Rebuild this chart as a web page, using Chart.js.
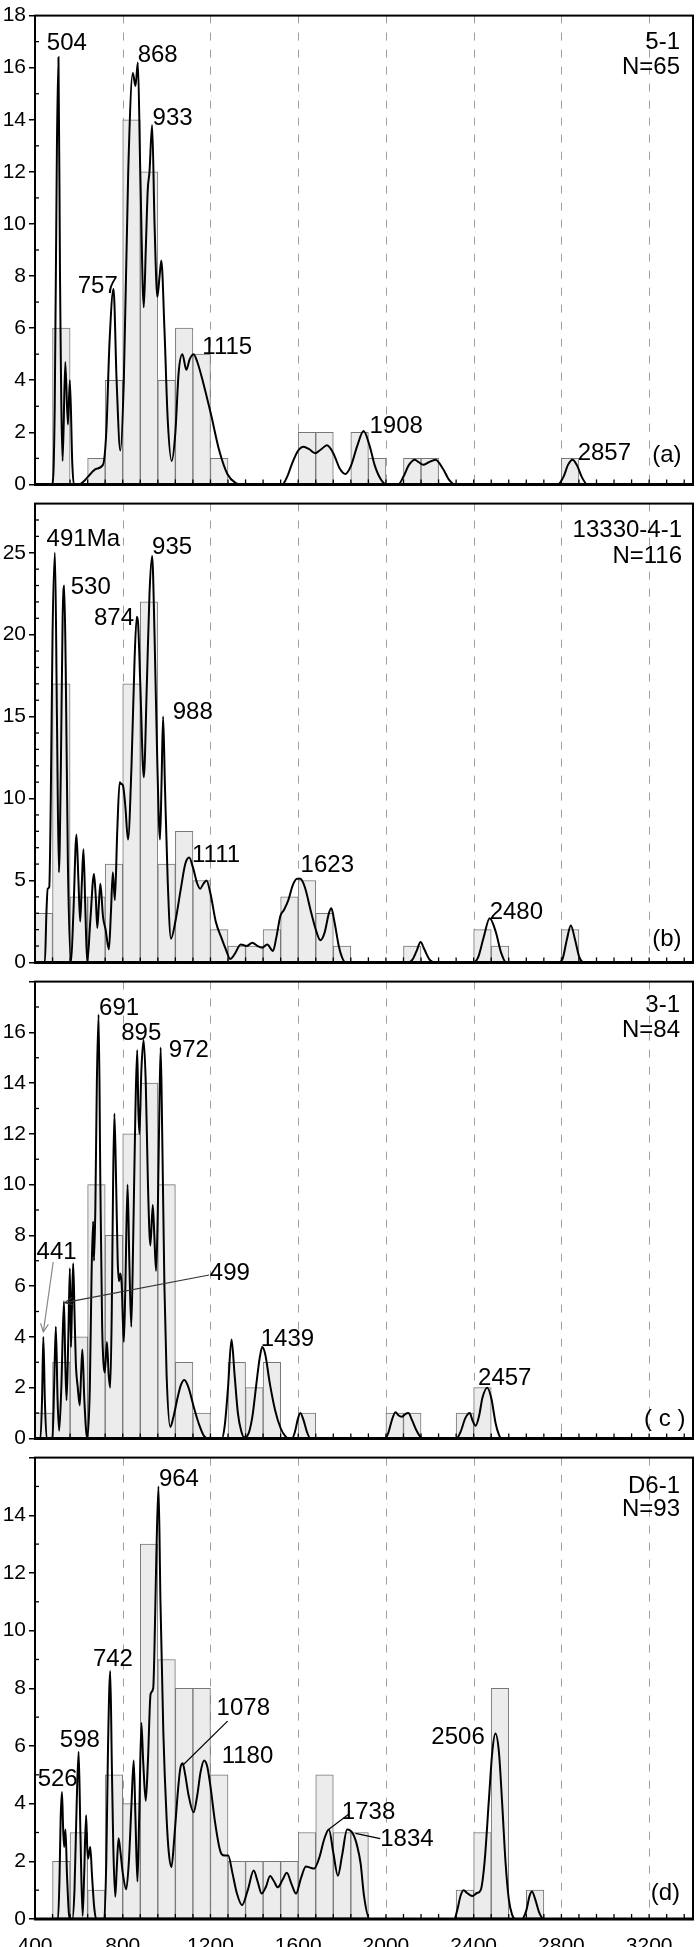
<!DOCTYPE html>
<html>
<head>
<meta charset="utf-8">
<script src="https://cdn.jsdelivr.net/npm/chart.js@4.4.1/dist/chart.umd.min.js"></script>
<style>
html, body { margin: 0; padding: 0; background: #fff; }
#wrap { position: relative; width: 700px; height: 1947px; overflow: hidden; }
canvas { position: absolute; left: 0; }
</style>
</head>
<body>
<div id="wrap">
  <canvas id="ga" width="700" height="500" style="top:0px"></canvas>
  <canvas id="gb" width="700" height="490" style="top:488px"></canvas>
  <canvas id="gc" width="700" height="488" style="top:966px"></canvas>
  <canvas id="gd" width="700" height="505" style="top:1442px"></canvas>
</div>
<script>
// histogram bins are 80 Ma wide, lower edges listed
var binWidth = 80;
var ageTicks = [400, 800, 1200, 1600, 2000, 2400, 2800, 3200];

// (a) 5-1
var binsA = [480, 640, 720, 800, 880, 960, 1040, 1120, 1200, 1600, 1680, 1840, 1920, 2080, 2160, 2800];
var countsA = [6, 1, 4, 14, 12, 4, 6, 5, 1, 2, 2, 2, 1, 1, 1, 1];
var curveA = [[400,0],[480,0],[490,3],[500,13],[507,16.4],[514,8],[526,0.9],[538,4.7],[550,2.3],[559,4.0],[570,0.8],[577,0],
  [600,0],[620,0.1],[642,0.3],[680,0.6],[710,0.75],[725,2],[740,5.5],[758,7.5],[772,4],[789,1.3],[805,4],[825,12],
  [846,15.8],[858,15.3],[869,16.2],[880,12],[896,6.8],[905,9],[914,11.3],[922,12],[934,13.8],[945,10],[958,7.2],
  [968,8],[976,8.6],[990,6],[1005,2.5],[1023,0.9],[1040,2],[1055,4.3],[1072,5.0],[1090,4.4],[1105,4.8],[1123,5.0],
  [1140,4.7],[1164,4.0],[1202,2.7],[1240,1.3],[1277,0.4],[1315,0.05],[1340,0],[1527,0],[1550,0.3],[1572,0.8],
  [1600,1.3],[1625,1.45],[1650,1.35],[1678,1.2],[1705,1.35],[1731,1.5],[1760,1.2],[1790,0.6],[1815,0.4],[1840,0.7],
  [1870,1.5],[1898,2.05],[1925,1.5],[1950,0.7],[1980,0.15],[2004,0],[2057,0],[2080,0.3],[2105,0.75],[2132,0.95],
  [2150,0.85],[2170,0.75],[2195,0.85],[2226,0.95],[2260,0.6],[2290,0.15],[2314,0],[2783,0],[2810,0.3],[2830,0.75],
  [2851,0.95],[2870,0.75],[2895,0.25],[2919,0],[3400,0]];

// (b) 13330-4-1
var binsB = [400, 480, 560, 640, 720, 800, 880, 960, 1040, 1120, 1200, 1280, 1360, 1440, 1520, 1600, 1680, 1760, 2080, 2400, 2480, 2800];
var countsB = [3, 17, 4, 4, 6, 17, 22, 6, 8, 5, 2, 1, 1, 2, 4, 5, 3, 1, 1, 2, 1, 2];
var curveB = [[400,0],[445,0],[452,3],[458,4.5],[465,4.6],[472,10],[480,20],[491,25],[500,15],[509,5.5],[518,12],[526,21],
  [533,23],[540,18],[550,6],[564,0],[575,3],[589,7.8],[598,5],[606,2.5],[614,5],[621,6.9],[630,3],[638,0],[652,2.5],
  [669,5.4],[677,4],[684,2.1],[691,3.5],[698,4.8],[710,2.8],[722,2.0],[737,0.8],[746,3],[755,5.5],[764,3.8],[775,8],
  [786,11],[793,10.9],[801,10.8],[812,9.5],[824,7.5],[840,12],[854,18.5],[864,21.1],[870,20.7],[880,17],[896,11.3],
  [910,17],[922,22.5],[934,24.8],[945,20],[958,12],[970,7.5],[977,11],[984,15],[992,11],[1005,5],[1020,1.45],
  [1040,2.5],[1065,4.5],[1085,6],[1103,6.4],[1120,5.8],[1140,4.8],[1153,4.5],[1168,4.8],[1182,5.0],[1200,4.2],
  [1224,2.5],[1250,1.5],[1270,0.8],[1290,0.2],[1310,0.5],[1338,1.1],[1365,1.0],[1391,1.2],[1415,1.0],[1436,0.9],
  [1459,1.1],[1485,0.7],[1500,1.5],[1519,2.85],[1535,3.2],[1555,3.8],[1575,4.7],[1595,5.1],[1610,5.1],[1630,4.6],
  [1660,3.0],[1685,1.8],[1701,1.35],[1720,1.8],[1740,3.0],[1751,3.3],[1765,2.5],[1785,1.0],[1800,0.3],[1815,0],
  [2102,0],[2120,0.15],[2140,0.7],[2158,1.25],[2175,0.8],[2200,0.15],[2223,0],[2397,0],[2420,0.3],[2445,1.5],
  [2473,2.7],[2500,1.9],[2525,0.6],[2548,0],[2786,0],[2805,0.2],[2825,1.4],[2843,2.25],[2862,1.4],[2882,0.3],
  [2904,0],[3400,0]];

// (c) 3-1
var binsC = [400, 480, 560, 640, 720, 800, 880, 960, 1040, 1120, 1280, 1360, 1440, 1600, 2000, 2080, 2320, 2400];
var countsC = [1, 3, 4, 10, 8, 12, 14, 10, 3, 1, 3, 2, 3, 1, 1, 1, 1, 2];
var curveC = [[400,0],[425,0],[432,1.5],[438,4.0],[445,1.5],[453,0],[480,0],[487,2],[495,4.4],[503,1.5],[510,0.3],[520,2],
  [532,5.4],[538,3],[544,1.5],[552,4],[559,6.7],[564,3.6],[568,5],[574,6.9],[580,5],[586,3.0],[595,2.0],[604,1.3],
  [610,2.5],[616,3.5],[625,1.5],[638,0],[650,2],[658,6.5],[665,8.55],[669,7],[675,9],[682,14],[690,16.7],[698,10],
  [706,4.5],[712,3],[718,2.6],[728,3.8],[736,2.5],[743,2.0],[750,5],[756,10],[762,12.8],[770,10],[777,7],[783,6.2],
  [789,6.5],[795,6.1],[805,3.8],[812,6],[822,10],[830,7],[839,4.4],[848,8],[858,13],[866,15.3],[871,13],[876,12],
  [885,14.5],[895,15.7],[905,14],[915,10],[926,7.6],[937,9.2],[944,8],[952,6.6],[960,9],[967,13],[973,15.4],
  [980,12],[990,6],[1000,2.5],[1017,0.45],[1030,0.8],[1050,1.6],[1065,2.1],[1081,2.3],[1100,2.0],[1125,1.2],
  [1150,0.5],[1170,0.1],[1187,0],[1252,0],[1265,0.5],[1280,2],[1296,3.9],[1310,2.5],[1325,1.0],[1340,0.3],
  [1353,0.05],[1368,0.1],[1390,0.8],[1410,2.2],[1425,3.2],[1436,3.6],[1450,3.3],[1470,2.2],[1495,1.1],[1520,0.4],
  [1540,0.1],[1557,0],[1572,0],[1585,0.25],[1598,0.75],[1610,1.0],[1625,0.7],[1640,0.25],[1656,0],[1996,0],
  [2010,0.2],[2030,0.8],[2044,1.03],[2058,0.9],[2072,0.85],[2087,0.95],[2102,1.0],[2120,0.7],[2140,0.3],[2166,0],
  [2321,0],[2340,0.25],[2362,0.8],[2382,1.0],[2395,0.7],[2409,0.5],[2425,0.9],[2440,1.6],[2462,2.0],[2480,1.6],
  [2500,0.6],[2515,0.15],[2526,0],[3400,0]];

// (d) D6-1
var binsD = [480, 560, 640, 720, 800, 880, 960, 1040, 1120, 1200, 1280, 1360, 1440, 1520, 1600, 1680, 1760, 1840, 2320, 2400, 2480, 2640];
var countsD = [2, 3, 1, 5, 4, 13, 9, 8, 8, 5, 2, 2, 2, 2, 3, 5, 3, 3, 1, 3, 8, 1];
var curveD = [[400,0],[505,0],[512,1.5],[517,3.5],[523,4.4],[528,3.2],[533,2.5],[539,3.1],[546,1.5],[558,0],[570,0],
  [580,1],[590,4],[599,5.8],[607,3],[617,0.1],[624,1.5],[633,3.6],[638,2.5],[642,2.1],[647,2.3],[652,2.5],[660,1.5],
  [670,0.4],[679,0],[716,0],[725,2],[733,6],[743,8.6],[750,5.5],[757,2.5],[766,0.77],[773,1.8],[781,2.8],[790,2.3],
  [800,1.6],[816,1.03],[828,2],[840,4],[850,5.5],[858,3.5],[867,1.3],[875,3.5],[885,6.8],[893,5.5],[905,4.1],
  [915,5.5],[927,7.8],[939,8.0],[945,9.5],[953,12.5],[963,15.0],[972,11],[985,6.5],[1000,3.5],[1010,2.3],
  [1022,1.8],[1035,2.8],[1050,4.3],[1062,5.2],[1073,5.4],[1085,5.0],[1100,4.3],[1123,3.7],[1140,4.3],[1155,5.1],
  [1171,5.5],[1185,5.3],[1200,4.6],[1220,3.4],[1240,2.5],[1251,2.25],[1265,2.2],[1281,2.2],[1300,1.6],[1320,0.9],
  [1344,0.48],[1370,1.0],[1397,1.68],[1415,1.3],[1433,0.88],[1452,1.1],[1472,1.49],[1490,1.3],[1507,1.1],
  [1528,1.35],[1548,1.6],[1570,1.2],[1590,0.88],[1612,1.4],[1635,1.82],[1655,1.78],[1673,1.75],[1695,2.1],
  [1720,2.8],[1740,3.1],[1760,2.3],[1781,1.5],[1800,2.2],[1823,3.1],[1850,2.95],[1870,2.5],[1885,1.9],[1900,0.8],
  [1925,0],[2311,0],[2325,0.3],[2340,0.8],[2354,1.0],[2370,0.9],[2394,0.8],[2415,0.9],[2432,1.0],[2450,2],
  [2470,4.2],[2485,5.8],[2499,6.43],[2515,5.8],[2530,4],[2545,2],[2560,0.7],[2575,0.15],[2590,0],[2620,0],
  [2640,0.3],[2655,0.8],[2666,0.95],[2680,0.7],[2700,0.2],[2718,0],[3400,0]];

var fontFam = "'Liberation Sans', Arial, sans-serif";

// peak labels and sample names, placed in data units
var notesA = {
  texts: [
    {t: '504', x: 454, y: 16.66}, {t: '868', x: 868, y: 16.2}, {t: '933', x: 936, y: 13.8},
    {t: '757', x: 595, y: 7.34}, {t: '1115', x: 1163, y: 5.0}, {t: '1908', x: 1925, y: 1.98},
    {t: '2857', x: 2874, y: 0.93}, {t: '(a)', x: 3214, y: 0.86},
    {t: '5-1', x: 3341, y: 16.7, align: 'right'}, {t: 'N=65', x: 3341, y: 15.77, align: 'right'}
  ],
  lines: []
};
var notesB = {
  texts: [
    {t: '491Ma', x: 453, y: 25.4}, {t: '530', x: 563, y: 22.5}, {t: '874', x: 669, y: 20.6},
    {t: '935', x: 934, y: 24.9}, {t: '988', x: 1028, y: 14.86}, {t: '1111', x: 1116, y: 6.13},
    {t: '1623', x: 1611, y: 5.54}, {t: '2480', x: 2473, y: 2.66}, {t: '(b)', x: 3214, y: 1.0},
    {t: '13330-4-1', x: 3350, y: 25.95, align: 'right'}, {t: 'N=116', x: 3350, y: 24.4, align: 'right'}
  ],
  lines: []
};
var notesC = {
  texts: [
    {t: '691', x: 692, y: 16.7}, {t: '895', x: 793, y: 15.7}, {t: '972', x: 1010, y: 15.03},
    {t: '441', x: 407, y: 7.08}, {t: '499', x: 1197, y: 6.25}, {t: '1439', x: 1429, y: 3.63},
    {t: '2457', x: 2420, y: 2.1}, {t: '( c )', x: 3177, y: 0.49},
    {t: '3-1', x: 3341, y: 16.8, align: 'right'}, {t: 'N=84', x: 3341, y: 15.8, align: 'right'}
  ],
  lines: [
    {x1: 483, y1: 6.95, x2: 438, y2: 4.2, arrow: true, color: '#888'},
    {x1: 1194, y1: 6.44, x2: 536, y2: 5.35, arrow: true, color: '#333'}
  ]
};
var notesD = {
  texts: [
    {t: '964', x: 965, y: 15.0}, {t: '742', x: 664, y: 8.77}, {t: '598', x: 513, y: 5.97},
    {t: '526', x: 412, y: 4.6}, {t: '1078', x: 1228, y: 7.06}, {t: '1180', x: 1251, y: 5.4},
    {t: '1738', x: 1799, y: 3.46}, {t: '1834', x: 1974, y: 2.54}, {t: '2506', x: 2207, y: 6.08},
    {t: '(d)', x: 3207, y: 0.65},
    {t: 'D6-1', x: 3341, y: 14.78, align: 'right'}, {t: 'N=93', x: 3341, y: 13.97, align: 'right'}
  ],
  lines: [
    {x1: 1278, y1: 6.86, x2: 1075, y2: 5.34, color: '#000'},
    {x1: 1830, y1: 3.63, x2: 1740, y2: 3.11, color: '#000'},
    {x1: 1861, y1: 2.97, x2: 1974, y2: 2.79, color: '#000'}
  ]
};

function criarPainel(p)
{
    var bars = p.bins.map(function (b, i) { return {x: b + binWidth / 2, y: p.counts[i]}; });
    var line = p.curve.map(function (c) { return {x: c[0], y: c[1]}; });

    // dashed verticals, frame, inner ticks and the labels
    var moldura = {
        id: 'moldura',
        beforeDatasetsDraw: function (chart) {
            var ctx = chart.ctx, a = chart.chartArea, x = chart.scales.x;
            ctx.save();
            ctx.strokeStyle = '#a0a0a0';
            ctx.lineWidth = 1;
            ctx.setLineDash([8, 9]);
            ageTicks.forEach(function (v) {
                if (v <= x.min) return;
                var px = Math.round(x.getPixelForValue(v)) + 0.5;
                ctx.beginPath(); ctx.moveTo(px, a.top); ctx.lineTo(px, a.bottom); ctx.stroke();
            });
            ctx.restore();
        },
        afterDraw: function (chart) {
            var ctx = chart.ctx, a = chart.chartArea, x = chart.scales.x, y = chart.scales.y;
            ctx.save();
            ctx.strokeStyle = '#000';
            ctx.lineWidth = 1.3;
            for (var v = 400 + binWidth; v < 3400; v += binWidth) {
                var px = x.getPixelForValue(v);
                ctx.beginPath(); ctx.moveTo(px, a.bottom); ctx.lineTo(px, a.bottom - 5); ctx.stroke();
            }
            for (var k = p.yMinor; k < p.yMax; k += p.yMinor) {
                if (k % p.yStep === 0) continue;
                var py = y.getPixelForValue(k);
                ctx.beginPath(); ctx.moveTo(a.left, py); ctx.lineTo(a.left + 4, py); ctx.stroke();
            }
            ctx.lineWidth = 2;
            ctx.strokeRect(a.left, a.top, a.right - a.left, a.bottom - a.top);
            ctx.lineWidth = 3;
            ctx.beginPath(); ctx.moveTo(a.left - 1, a.bottom); ctx.lineTo(a.right + 1, a.bottom); ctx.stroke();

            p.notes.lines.forEach(function (l) {
                var x1 = x.getPixelForValue(l.x1), y1 = y.getPixelForValue(l.y1);
                var x2 = x.getPixelForValue(l.x2), y2 = y.getPixelForValue(l.y2);
                ctx.strokeStyle = l.color;
                ctx.lineWidth = 1.2;
                ctx.beginPath(); ctx.moveTo(x1, y1); ctx.lineTo(x2, y2); ctx.stroke();
                if (l.arrow) {
                    var ang = Math.atan2(y2 - y1, x2 - x1);
                    ctx.beginPath();
                    ctx.moveTo(x2 - 9 * Math.cos(ang - 0.45), y2 - 9 * Math.sin(ang - 0.45));
                    ctx.lineTo(x2, y2);
                    ctx.lineTo(x2 - 9 * Math.cos(ang + 0.45), y2 - 9 * Math.sin(ang + 0.45));
                    ctx.stroke();
                }
            });

            ctx.fillStyle = '#000';
            ctx.font = '24px ' + fontFam;
            ctx.textBaseline = 'alphabetic';
            p.notes.texts.forEach(function (n) {
                ctx.textAlign = n.align || 'left';
                ctx.fillText(n.t, x.getPixelForValue(n.x), y.getPixelForValue(n.y));
            });
            ctx.restore();
        }
    };

    return new Chart(document.getElementById(p.id), {
        type: 'bar',
        data: {
            datasets: [{
                type: 'line',
                data: line,
                borderColor: '#000',
                borderWidth: 2,
                pointRadius: 0,
                fill: false,
                cubicInterpolationMode: 'monotone',
                order: 0
            }, {
                type: 'bar',
                data: bars,
                backgroundColor: '#ececec',
                borderColor: '#777',
                borderWidth: 1,
                borderSkipped: false,
                barPercentage: 1,
                categoryPercentage: 1,
                grouped: false,
                order: 1
            }]
        },
        options: {
            responsive: false,
            animation: false,
            events: [],
            layout: {padding: {top: p.padTop, right: 7, left: 0, bottom: p.padBottom}},
            plugins: {legend: {display: false}, tooltip: {enabled: false}},
            scales: {
                x: {
                    type: 'linear',
                    min: 400,
                    max: 3400,
                    offset: false,
                    afterFit: function (s) { s.height = p.xHeight; },
                    afterBuildTicks: function (s) {
                        s.ticks = ageTicks.map(function (v) { return {value: v}; });
                    },
                    ticks: {
                        display: p.showX,
                        color: '#000',
                        font: {family: fontFam, size: 21},
                        padding: 7,
                        maxRotation: 0,
                        autoSkip: false,
                        callback: function (v) { return String(v); }
                    },
                    grid: {display: false},
                    border: {display: false}
                },
                y: {
                    min: 0,
                    max: p.yMax,
                    afterFit: function (s) { s.width = 35; },
                    afterBuildTicks: function (s) {
                        s.ticks = s.ticks.filter(function (t) { return t.value % p.yStep === 0; });
                    },
                    ticks: {
                        stepSize: p.yStep,
                        color: '#000',
                        font: {family: fontFam, size: 21},
                        padding: 3,
                        callback: function (v) { return v <= p.labelMax ? String(v) : ''; }
                    },
                    grid: {drawOnChartArea: false, color: '#000', lineWidth: 1.5, tickLength: 6},
                    border: {display: false}
                }
            }
        },
        plugins: [moldura]
    });
}

criarPainel({id: 'ga', bins: binsA, counts: countsA, curve: curveA, notes: notesA,
    yMax: 18, yStep: 2, yMinor: 1, labelMax: 18, padTop: 7, padBottom: 8, xHeight: 2, showX: false});
criarPainel({id: 'gb', bins: binsB, counts: countsB, curve: curveB, notes: notesB,
    yMax: 28, yStep: 5, yMinor: 1, labelMax: 25, padTop: 9, padBottom: 8, xHeight: 2, showX: false});
criarPainel({id: 'gc', bins: binsC, counts: countsC, curve: curveC, notes: notesC,
    yMax: 18, yStep: 2, yMinor: 1, labelMax: 16, padTop: 9, padBottom: 8, xHeight: 2, showX: false});
criarPainel({id: 'gd', bins: binsD, counts: countsD, curve: curveD, notes: notesD,
    yMax: 16, yStep: 2, yMinor: 1, labelMax: 14, padTop: 10, padBottom: 0, xHeight: 28, showX: true});
</script>
</body>
</html>
